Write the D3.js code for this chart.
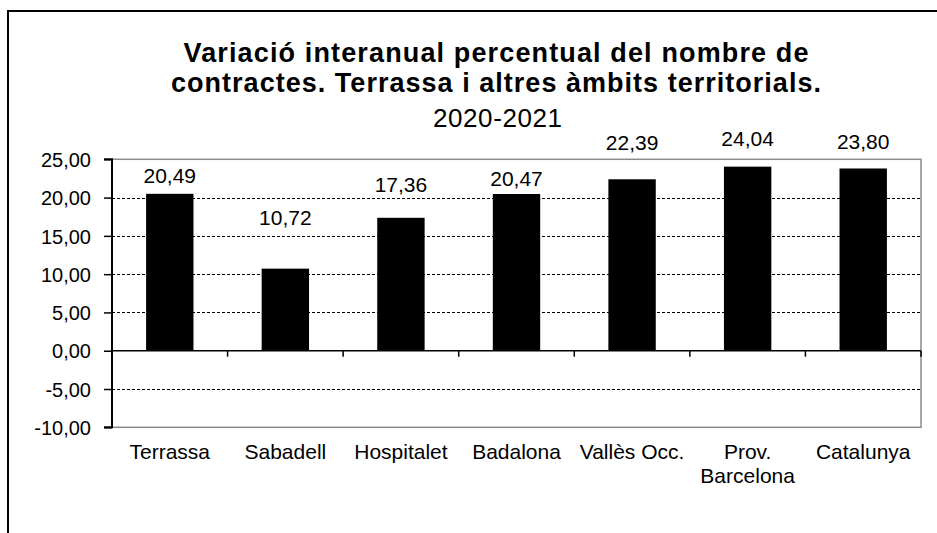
<!DOCTYPE html>
<html>
<head>
<meta charset="utf-8">
<script src="https://cdn.jsdelivr.net/npm/d3@7/dist/d3.min.js"></script>
<style>
  html, body { margin: 0; padding: 0; background: #fff; }
  svg { display: block; }
  text { font-family: "Liberation Sans", Arial, sans-serif; fill: #000; }
</style>
</head>
<body>
<svg id="chart" width="937" height="533"></svg>
<script>
// ---- data ----
const categories = ["Terrassa", "Sabadell", "Hospitalet", "Badalona", "Vallès Occ.", "Prov. Barcelona", "Catalunya"];
const categoryLines = [["Terrassa"], ["Sabadell"], ["Hospitalet"], ["Badalona"], ["Vallès Occ."], ["Prov.", "Barcelona"], ["Catalunya"]];
const values = [20.49, 10.72, 17.36, 20.47, 22.39, 24.04, 23.80];
const yTicks = [-10, -5, 0, 5, 10, 15, 20, 25];
const titleLines = ["Variació interanual percentual del nombre de", "contractes. Terrassa i altres àmbits territorials."];
const subtitle = "2020-2021";

// ---- layout ----
const W = 937, H = 533;
const plot = { left: 112, right: 921, top: 159.3, bottom: 427.3 };
// pixel lift of each value label above its bar top (manual placement in the original)
const LABEL_LIFT = [11, 44, 26, 8, 29, 21, 19];

const svg = d3.select("#chart");
const loc = d3.formatLocale({ decimal: ",", thousands: ".", grouping: [3], currency: ["", "€"], minus: "-" });
const fmt = loc.format(".2f");

// outer chart border (continues beyond the picture on right and bottom)
svg.append("rect")
  .attr("x", 8).attr("y", 11).attr("width", 1000).attr("height", 1000)
  .attr("fill", "none").attr("stroke", "#000").attr("stroke-width", 2);

const x = d3.scaleBand().domain(categories)
  .range([plot.left, plot.right]).paddingInner(0.59).paddingOuter(0.295);
const y = d3.scaleLinear().domain([d3.min(yTicks), d3.max(yTicks)]).range([plot.bottom, plot.top]);

// plot area border (grey)
svg.append("rect")
  .attr("x", plot.left).attr("y", plot.top)
  .attr("width", plot.right - plot.left).attr("height", plot.bottom - plot.top)
  .attr("fill", "none").attr("stroke", "#8a8a8a").attr("stroke-width", 1.5);

// dashed gridlines
svg.append("g").selectAll("line")
  .data(yTicks.filter(v => v !== 0 && v !== d3.min(yTicks) && v !== d3.max(yTicks)))
  .join("line")
  .attr("x1", plot.left).attr("x2", plot.right)
  .attr("y1", d => Math.round(y(d)) + 0.5).attr("y2", d => Math.round(y(d)) + 0.5)
  .attr("stroke", "#000").attr("stroke-width", 1.2).attr("stroke-dasharray", "3,2");

// bars
svg.append("g").selectAll("rect")
  .data(values)
  .join("rect")
  .attr("x", (d, i) => x(categories[i]))
  .attr("width", x.bandwidth())
  .attr("y", d => y(Math.max(0, d)))
  .attr("height", d => Math.abs(y(d) - y(0)))
  .attr("fill", "#000");

// zero line with category ticks
svg.append("line")
  .attr("x1", plot.left).attr("x2", plot.right)
  .attr("y1", y(0)).attr("y2", y(0))
  .attr("stroke", "#000").attr("stroke-width", 1.5);
svg.append("g").selectAll("line")
  .data(d3.range(1, categories.length + 1))
  .join("line")
  .attr("x1", i => plot.left + i * x.step()).attr("x2", i => plot.left + i * x.step())
  .attr("y1", y(0)).attr("y2", y(0) + 6)
  .attr("stroke", "#000").attr("stroke-width", 1.5);

// y axis
const yAxis = d3.axisLeft(y).tickValues(yTicks).tickFormat(fmt).tickSize(8).tickPadding(13);
const ya = svg.append("g").attr("transform", `translate(${plot.left},0)`).call(yAxis);
ya.select(".domain").attr("stroke", "#000").attr("stroke-width", 2).attr("d", `M-8,${y(d3.max(yTicks))}H0V${y(d3.min(yTicks))}H-8`);
ya.selectAll(".tick line").attr("stroke", "#000").attr("stroke-width", 1.5);
ya.selectAll(".tick text").attr("font-size", 20).attr("fill", "#000")
  .attr("font-family", '"Liberation Sans", Arial, sans-serif').attr("dy", "0.36em");

// value labels
svg.append("g").selectAll("text")
  .data(values)
  .join("text")
  .attr("x", (d, i) => x(categories[i]) + x.bandwidth() / 2)
  .attr("y", (d, i) => y(d) - LABEL_LIFT[i])
  .attr("text-anchor", "middle").attr("font-size", 21)
  .text(d => fmt(d));

// category labels
const cl = svg.append("g").selectAll("text")
  .data(categoryLines)
  .join("text")
  .attr("x", (d, i) => x(categories[i]) + x.bandwidth() / 2)
  .attr("y", 458.5)
  .attr("text-anchor", "middle").attr("font-size", 21);
cl.selectAll("tspan").data(d => d).join("tspan")
  .attr("x", function () { return d3.select(this.parentNode).attr("x"); })
  .attr("dy", (d, j) => j === 0 ? 0 : 24)
  .text(d => d);

// title
const cx = 496;
svg.append("text").attr("x", cx).attr("y", 61.7).attr("text-anchor", "middle")
  .attr("font-size", 27).attr("font-weight", "bold")
  .attr("textLength", 625).attr("lengthAdjust", "spacing").text(titleLines[0]);
svg.append("text").attr("x", cx).attr("y", 91.7).attr("text-anchor", "middle")
  .attr("font-size", 27).attr("font-weight", "bold")
  .attr("textLength", 650).attr("lengthAdjust", "spacing").text(titleLines[1]);
svg.append("text").attr("x", 497.5).attr("y", 126.7).attr("text-anchor", "middle")
  .attr("font-size", 26).attr("textLength", 129).attr("lengthAdjust", "spacing").text(subtitle);
</script>
</body>
</html>
